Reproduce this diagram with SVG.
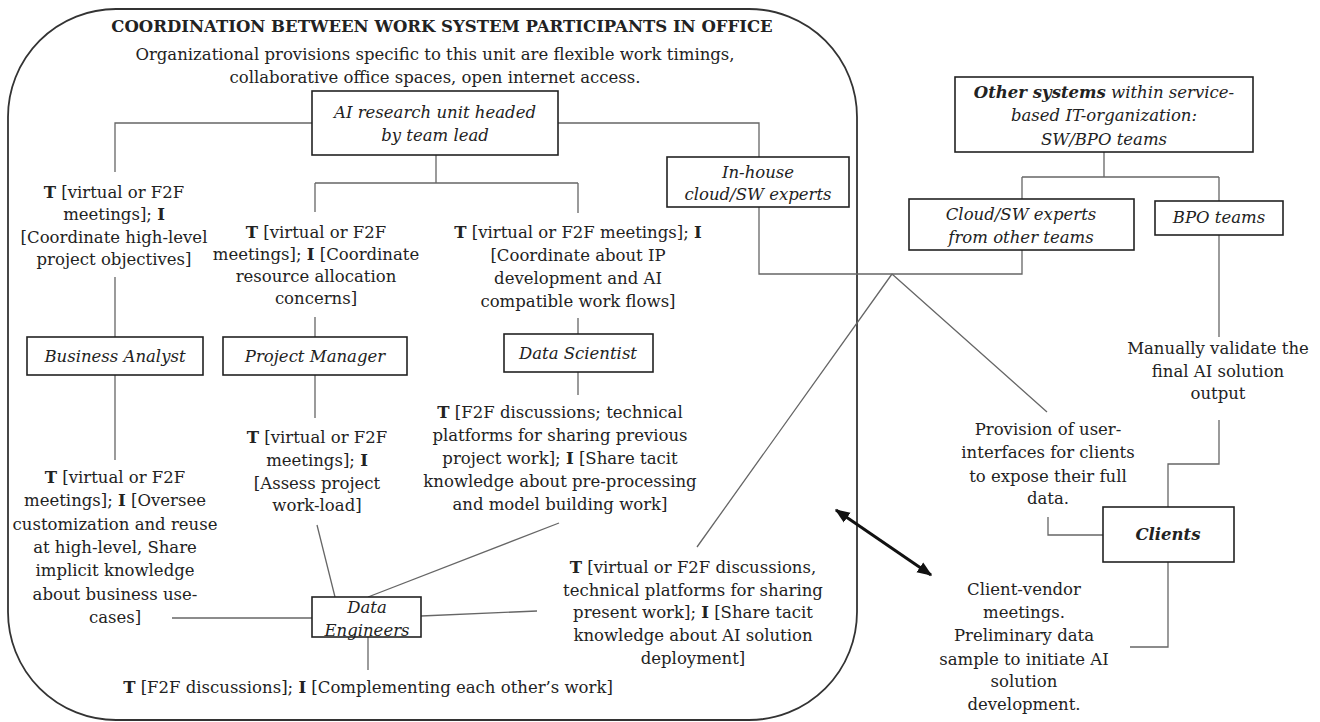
<svg xmlns="http://www.w3.org/2000/svg" width="1320" height="722" viewBox="0 0 1320 722">
<style>
.t{font-family:"DejaVu Serif","Liberation Serif",serif;font-size:16.5px;fill:#222;text-anchor:middle}
.ti{font-family:"DejaVu Serif","Liberation Serif",serif;font-size:16.5px;fill:#222;text-anchor:middle;font-style:italic}
.b{font-weight:bold}
.box{fill:#fff;stroke:#222;stroke-width:1.6}
.ln{fill:none;stroke:#666;stroke-width:1.3}
.frame{fill:none;stroke:#333;stroke-width:1.8}
</style>
<defs>
<marker id="ah" viewBox="0 0 10 10" refX="9" refY="5" markerWidth="5" markerHeight="5" orient="auto-start-reverse" markerUnits="strokeWidth">
<path d="M0,1 L10,5 L0,9 z" fill="#111"/>
</marker>
</defs>
<rect x="8" y="9" width="849" height="711" rx="108" ry="108" class="frame"/>
<g id="title">
<text class="t b" x="442" y="32" font-size="16.5">COORDINATION BETWEEN WORK SYSTEM PARTICIPANTS IN OFFICE</text>
<text class="t" x="435" y="60">Organizational provisions specific to this unit are flexible work timings,</text>
<text class="t" x="435" y="83">collaborative office spaces, open internet access.</text>
</g>
<g id="connectors">
<path class="ln" d="M312 123 H115 V172"/>
<path class="ln" d="M558 123 H759 V157"/>
<path class="ln" d="M436 155 V183 M315 183 H578 M315 183 V212 M578 183 V213"/>
<path class="ln" d="M115 277 V337 M115 375 V460"/>
<path class="ln" d="M315 317 V337 M315 375 V418"/>
<path class="ln" d="M578 318 V334 M578 372 V395"/>
<path class="ln" d="M317 525 L335 597"/>
<path class="ln" d="M172 618 H312"/>
<path class="ln" d="M368 637 V670"/>
<path class="ln" d="M368 597 L559 523"/>
<path class="ln" d="M421 616 L537 611"/>
<path class="ln" d="M759 207 V274 H1022 V250"/>
<path class="ln" d="M1104 152 V177 M1022 177 H1219 M1022 177 V199 M1219 177 V201"/>
<path class="ln" d="M1219 235 V337"/>
<path class="ln" d="M892 274 L697 547 M892 274 L1047 412"/>
<path class="ln" d="M1219 420 V464 H1168 V507"/>
<path class="ln" d="M1048 517 V535 H1103"/>
<path class="ln" d="M1168 562 V647 H1130"/>
<path d="M836 510 L931 575" fill="none" stroke="#111" stroke-width="3" marker-start="url(#ah)" marker-end="url(#ah)"/>
</g>
<g id="ai-unit">
<rect class="box" x="312" y="91" width="246" height="64"/>
<text class="ti" x="435" y="118">AI research unit headed</text>
<text class="ti" x="435" y="141">by team lead</text>
</g>
<g id="inhouse">
<rect class="box" x="667" y="157" width="182" height="50"/>
<text class="ti" x="758" y="178">In-house</text>
<text class="ti" x="758" y="200">cloud/SW experts</text>
</g>
<g id="other-systems">
<rect class="box" x="955" y="77" width="298" height="75"/>
<text class="ti" x="1104" y="98"><tspan class="b">Other systems</tspan> within service-</text>
<text class="ti" x="1104" y="121">based IT-organization:</text>
<text class="ti" x="1104" y="145">SW/BPO teams</text>
</g>
<g id="cloud-other">
<rect class="box" x="909" y="199" width="225" height="51"/>
<text class="ti" x="1021" y="220">Cloud/SW experts</text>
<text class="ti" x="1021" y="243">from other teams</text>
</g>
<g id="bpo">
<rect class="box" x="1155" y="201" width="128" height="34"/>
<text class="ti" x="1219" y="223">BPO teams</text>
</g>
<g id="clients">
<rect class="box" x="1103" y="507" width="131" height="55"/>
<text class="ti b" x="1168" y="540">Clients</text>
</g>
<g id="business-analyst">
<rect class="box" x="27" y="337" width="176" height="38"/>
<text class="ti" x="115" y="362">Business Analyst</text>
</g>
<g id="project-manager">
<rect class="box" x="223" y="337" width="184" height="38"/>
<text class="ti" x="315" y="362">Project Manager</text>
</g>
<g id="data-scientist">
<rect class="box" x="504" y="334" width="149" height="38"/>
<text class="ti" x="578" y="359">Data Scientist</text>
</g>
<g id="data-engineers">
<rect class="box" x="312" y="597" width="109" height="40"/>
<text class="ti" x="367" y="613">Data</text>
<text class="ti" x="367" y="636">Engineers</text>
</g>
<g id="labels">
<text class="t" x="114" y="198"><tspan class="b">T</tspan> [virtual or F2F</text>
<text class="t" x="114" y="220">meetings]; <tspan class="b">I</tspan></text>
<text class="t" x="114" y="243">[Coordinate high-level</text>
<text class="t" x="114" y="265">project objectives]</text>

<text class="t" x="316" y="238"><tspan class="b">T</tspan> [virtual or F2F</text>
<text class="t" x="316" y="260">meetings]; <tspan class="b">I</tspan> [Coordinate</text>
<text class="t" x="316" y="282">resource allocation</text>
<text class="t" x="316" y="304">concerns]</text>

<text class="t" x="578" y="238"><tspan class="b">T</tspan> [virtual or F2F meetings]; <tspan class="b">I</tspan></text>
<text class="t" x="578" y="261">[Coordinate about IP</text>
<text class="t" x="578" y="284">development and AI</text>
<text class="t" x="578" y="307">compatible work flows]</text>

<text class="t" x="317" y="443"><tspan class="b">T</tspan> [virtual or F2F</text>
<text class="t" x="317" y="466">meetings]; <tspan class="b">I</tspan></text>
<text class="t" x="317" y="489">[Assess project</text>
<text class="t" x="317" y="511">work-load]</text>

<text class="t" x="115" y="483"><tspan class="b">T</tspan> [virtual or F2F</text>
<text class="t" x="115" y="506">meetings]; <tspan class="b">I</tspan> [Oversee</text>
<text class="t" x="115" y="530">customization and reuse</text>
<text class="t" x="115" y="553">at high-level, Share</text>
<text class="t" x="115" y="576">implicit knowledge</text>
<text class="t" x="115" y="600">about business use-</text>
<text class="t" x="115" y="623">cases]</text>

<text class="t" x="560" y="418"><tspan class="b">T</tspan> [F2F discussions; technical</text>
<text class="t" x="560" y="441">platforms for sharing previous</text>
<text class="t" x="560" y="464">project work]; <tspan class="b">I</tspan> [Share tacit</text>
<text class="t" x="560" y="487">knowledge about pre-processing</text>
<text class="t" x="560" y="510">and model building work]</text>

<text class="t" x="693" y="573"><tspan class="b">T</tspan> [virtual or F2F discussions,</text>
<text class="t" x="693" y="596">technical platforms for sharing</text>
<text class="t" x="693" y="618">present work]; <tspan class="b">I</tspan> [Share tacit</text>
<text class="t" x="693" y="641">knowledge about AI solution</text>
<text class="t" x="693" y="664">deployment]</text>

<text class="t" x="368" y="693"><tspan class="b">T</tspan> [F2F discussions]; <tspan class="b">I</tspan> [Complementing each other’s work]</text>

<text class="t" x="1218" y="354">Manually validate the</text>
<text class="t" x="1218" y="377">final AI solution</text>
<text class="t" x="1218" y="399">output</text>

<text class="t" x="1048" y="435">Provision of user-</text>
<text class="t" x="1048" y="458">interfaces for clients</text>
<text class="t" x="1048" y="482">to expose their full</text>
<text class="t" x="1048" y="504">data.</text>

<text class="t" x="1024" y="595">Client-vendor</text>
<text class="t" x="1024" y="618">meetings.</text>
<text class="t" x="1024" y="641">Preliminary data</text>
<text class="t" x="1024" y="665">sample to initiate AI</text>
<text class="t" x="1024" y="687">solution</text>
<text class="t" x="1024" y="710">development.</text>
</g>
</svg>
